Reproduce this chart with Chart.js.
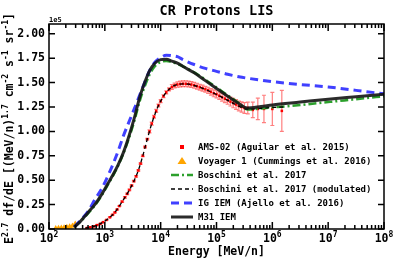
<!DOCTYPE html>
<html>
<head>
<meta charset="utf-8">
<script src="https://cdn.jsdelivr.net/npm/chart.js@4.4.0/dist/chart.umd.min.js"></script>
<style>
  html, body { margin: 0; padding: 0; background: #fff; }
  canvas { display: block; }
</style>
</head>
<body>
<canvas id="lisChart" width="399" height="261"></canvas>
<script>
// energies in MeV/n, spectra in units of 1e5
const modelE = [282, 355, 501, 661, 891, 1148, 1413, 1738, 2138, 2630, 3311, 4266, 5248, 6310, 7943,
    10000, 12589, 15849, 19953, 25119, 39811, 63096, 100000, 158489, 251189, 354813, 630957,
    1000000, 3162278, 10000000, 31622777, 100000000];
const m31Iem = [0.02, 0.07, 0.17, 0.25, 0.36, 0.47, 0.56, 0.66, 0.78, 0.93, 1.12, 1.36, 1.51, 1.62, 1.70,
    1.735, 1.74, 1.72, 1.70, 1.665, 1.60, 1.52, 1.44, 1.36, 1.285, 1.24, 1.255,
    1.27, 1.30, 1.33, 1.355, 1.38];
const igIem = [0.02, 0.08, 0.18, 0.30, 0.42, 0.55, 0.67, 0.80, 0.95, 1.08, 1.22, 1.38, 1.51, 1.62, 1.71,
    1.755, 1.78, 1.775, 1.765, 1.735, 1.685, 1.645, 1.615, 1.585, 1.56, 1.545, 1.525,
    1.51, 1.48, 1.455, 1.42, 1.385];
const boschini = [0.02, 0.07, 0.16, 0.24, 0.35, 0.46, 0.55, 0.65, 0.77, 0.91, 1.09, 1.32, 1.47, 1.58, 1.67,
    1.71, 1.72, 1.71, 1.69, 1.665, 1.605, 1.53, 1.45, 1.37, 1.29, 1.225, 1.235,
    1.245, 1.27, 1.30, 1.33, 1.36];

const modE = [447, 631, 933, 1230, 1585, 2042, 2630, 3311, 3981, 4786, 5754, 6918, 8318, 10000, 12589,
    15849, 19953, 25119, 31623, 39811, 63096, 100000, 158489, 251189, 354813, 630957, 1000000, 1584893];
const modF = [0.007, 0.027, 0.07, 0.12, 0.185, 0.28, 0.38, 0.49, 0.60, 0.75, 0.92, 1.08, 1.21, 1.31, 1.40,
    1.455, 1.48, 1.487, 1.483, 1.47, 1.43, 1.378, 1.318, 1.258, 1.228, 1.235, 1.245, 1.25];

const amsE = [479, 550, 631, 724, 832, 933, 1072, 1230, 1380, 1514, 1660, 1820, 2042, 2291, 2512, 2754,
    3020, 3311, 3631, 3981, 4365, 4786, 5248, 5754, 6310, 6918, 7586, 8318, 9120, 10000, 11220,
    12589, 14125, 15849, 17783, 19953, 22387, 25119, 28184, 31623, 35481, 39811, 44668, 50119,
    56234, 63096, 70795, 79433, 89125, 100000, 112202, 125893, 141254, 158489, 177828, 199526,
    223872, 251189, 281838, 316228, 363078, 446684, 549541, 707946, 1000000, 1479108];
const amsF = [0.01, 0.018, 0.027, 0.04, 0.053, 0.07, 0.093, 0.12, 0.145, 0.17, 0.2, 0.235, 0.28, 0.325, 0.36, 0.40,
    0.445, 0.49, 0.54, 0.60, 0.67, 0.75, 0.84, 0.92, 1.00, 1.08, 1.15, 1.21, 1.265, 1.31, 1.36,
    1.40, 1.43, 1.455, 1.47, 1.48, 1.485, 1.488, 1.487, 1.485, 1.48, 1.472, 1.463, 1.453,
    1.443, 1.432, 1.42, 1.405, 1.39, 1.38, 1.365, 1.35, 1.335, 1.32, 1.305, 1.29,
    1.275, 1.26, 1.25, 1.24, 1.24, 1.22, 1.23, 1.23, 1.23, 1.21];
const amsErr = [0.004, 0.004, 0.004, 0.004, 0.004, 0.004, 0.004, 0.004, 0.004, 0.004, 0.004, 0.004, 0.008, 0.008, 0.008, 0.008,
    0.008, 0.008, 0.008, 0.008, 0.008, 0.008, 0.008, 0.008, 0.015, 0.015, 0.015, 0.015, 0.015, 0.015, 0.015,
    0.015, 0.015, 0.025, 0.025, 0.028, 0.03, 0.03, 0.03, 0.03, 0.03, 0.03, 0.03, 0.03,
    0.03, 0.03, 0.032, 0.034, 0.035, 0.036, 0.038, 0.04, 0.04, 0.042, 0.045, 0.048,
    0.05, 0.05, 0.052, 0.055, 0.06, 0.08, 0.11, 0.14, 0.17, 0.21];

const voyagerE = [132, 148, 166, 186, 209, 234, 263, 295];
const voyagerF = [0.006, 0.008, 0.011, 0.014, 0.018, 0.023, 0.03, 0.05];

const xTicks = [1e2, 1e3, 1e4, 1e5, 1e6, 1e7, 1e8];
const xTickExps = ['2', '3', '4', '5', '6', '7', '8'];
const yTicks = [0, 0.25, 0.5, 0.75, 1.0, 1.25, 1.5, 1.75, 2.0];
const yTickLabels = ['0.00', '0.25', '0.50', '0.75', '1.00', '1.25', '1.50', '1.75', '2.00'];

const MONO = '"DejaVu Sans Mono", monospace';
const pts = (xs, ys) => xs.map((v, i) => ({ x: v, y: ys[i] }));

const decorations = {
    id: 'decorations',
    beforeDatasetsDraw(chart) {
        const { ctx, scales: { x, y } } = chart;
        ctx.save();
        ctx.strokeStyle = 'rgba(255, 0, 0, 0.5)';
        ctx.lineWidth = 1.2;
        amsE.forEach((e, i) => {
            const px = x.getPixelForValue(e);
            const lo = y.getPixelForValue(amsF[i] - amsErr[i]);
            const hi = y.getPixelForValue(amsF[i] + amsErr[i]);
            ctx.beginPath();
            ctx.moveTo(px, lo); ctx.lineTo(px, hi);
            ctx.moveTo(px - 2, lo); ctx.lineTo(px + 2, lo);
            ctx.moveTo(px - 2, hi); ctx.lineTo(px + 2, hi);
            ctx.stroke();
        });
        ctx.restore();
    },
    afterDraw(chart) {
        const { ctx, chartArea: a, scales: { x, y } } = chart;
        ctx.save();

        // frame + inward ticks
        ctx.strokeStyle = '#000';
        ctx.lineWidth = 1.5;
        ctx.strokeRect(a.left, a.top, a.right - a.left, a.bottom - a.top);
        ctx.beginPath();
        for (let d = 2; d <= 8; d++) {
            for (let m = 1; m <= 9; m++) {
                const v = m * Math.pow(10, d);
                if (v > 1e8) break;
                const px = x.getPixelForValue(v);
                const len = m === 1 ? 7 : 4;
                ctx.moveTo(px, a.bottom); ctx.lineTo(px, a.bottom - len);
                ctx.moveTo(px, a.top); ctx.lineTo(px, a.top + len);
            }
        }
        yTicks.forEach(v => {
            const py = y.getPixelForValue(v);
            ctx.moveTo(a.left, py); ctx.lineTo(a.left + 6, py);
            ctx.moveTo(a.right, py); ctx.lineTo(a.right - 6, py);
        });
        ctx.stroke();

        ctx.fillStyle = '#000';
        ctx.textBaseline = 'alphabetic';
        const baseFont = 'bold 11.5px ' + MONO, supFont = 'bold 8px ' + MONO;

        // x tick labels 10^n
        ctx.textAlign = 'left';
        xTicks.forEach((v, i) => {
            const px = x.getPixelForValue(v);
            ctx.font = baseFont;
            const wb = ctx.measureText('10').width;
            ctx.font = supFont;
            const we = ctx.measureText(xTickExps[i]).width;
            const sx = px - (wb + we) / 2;
            ctx.font = baseFont;
            ctx.fillText('10', sx, a.bottom + 12.5);
            ctx.font = supFont;
            ctx.fillText(xTickExps[i], sx + wb, a.bottom + 7.5);
        });

        ctx.textAlign = 'center';
        const midX = (a.left + a.right) / 2;
        ctx.font = 'bold 13.5px ' + MONO;
        ctx.fillText('CR Protons LIS', midX, 15);
        ctx.font = baseFont;
        ctx.fillText('Energy [MeV/n]', midX, 255);

        ctx.textAlign = 'left';
        ctx.font = 'bold 7px ' + MONO;
        ctx.fillText('1e5', a.left, 22);

        // y axis title with superscripts
        const parts = [['E', 0], ['2.7', 1], [' df/dE [(MeV/n)', 0], ['1.7', 1], [' cm', 0], ['-2', 1],
            [' s', 0], ['-1', 1], [' sr', 0], ['-1', 1], [']', 0]];
        let total = 0;
        parts.forEach(([t, s]) => { ctx.font = s ? supFont : baseFont; total += ctx.measureText(t).width; });
        ctx.translate(13, (a.top + a.bottom) / 2 + 2);
        ctx.rotate(-Math.PI / 2);
        let cx = -total / 2;
        parts.forEach(([t, s]) => {
            ctx.font = s ? supFont : baseFont;
            ctx.fillText(t, cx, s ? -5 : 0);
            cx += ctx.measureText(t).width;
        });
        ctx.setTransform(1, 0, 0, 1, 0, 0);

        // legend
        const lx0 = 171, lx1 = 193, tx = 198;
        ctx.font = 'bold 9px ' + MONO;
        chart.data.datasets.slice().sort((p, q) => p.legendRank - q.legendRank).forEach((ds, i) => {
            const cy = 147 + i * 14;
            ctx.save();
            if (ds.showLine === false) {
                ctx.fillStyle = ds.pointBackgroundColor;
                const mx = (lx0 + lx1) / 2;
                ctx.beginPath();
                if (ds.pointStyle === 'rect') {
                    ctx.rect(mx - 2, cy - 2, 4, 4);
                } else {
                    ctx.moveTo(mx, cy - 4); ctx.lineTo(mx + 4.5, cy + 3); ctx.lineTo(mx - 4.5, cy + 3);
                    ctx.closePath();
                }
                ctx.fill();
            } else {
                ctx.strokeStyle = ds.borderColor;
                ctx.lineWidth = ds.borderWidth;
                ctx.setLineDash(ds.borderDash || []);
                ctx.beginPath();
                ctx.moveTo(lx0, cy); ctx.lineTo(lx1, cy);
                ctx.stroke();
            }
            ctx.restore();
            ctx.fillStyle = '#000';
            ctx.fillText(ds.label, tx, cy + 3);
        });
        ctx.restore();
    }
};

new Chart(document.getElementById('lisChart'), {
    type: 'line',
    data: {
        datasets: [
            {
                label: 'M31 IEM',
                legendRank: 5,
                data: pts(modelE, m31Iem),
                borderColor: 'rgba(20, 20, 20, 0.9)',
                borderWidth: 3,
                pointRadius: 0,
                cubicInterpolationMode: 'monotone',
                order: 1,
            },
            {
                label: 'IG IEM (Ajello et al. 2016)',
                legendRank: 4,
                data: pts(modelE, igIem),
                borderColor: 'rgba(30, 30, 255, 0.85)',
                borderWidth: 3,
                borderDash: [8, 5],
                pointRadius: 0,
                cubicInterpolationMode: 'monotone',
                order: 2,
            },
            {
                label: 'Boschini et al. 2017 (modulated)',
                legendRank: 3,
                data: pts(modE, modF),
                borderColor: '#000',
                borderWidth: 1.3,
                borderDash: [4, 3],
                pointRadius: 0,
                cubicInterpolationMode: 'monotone',
                order: 3,
            },
            {
                label: 'Boschini et al. 2017',
                legendRank: 2,
                data: pts(modelE, boschini),
                borderColor: '#2ca02c',
                borderWidth: 2.5,
                borderDash: [8, 3, 2, 3],
                pointRadius: 0,
                cubicInterpolationMode: 'monotone',
                order: 4,
            },
            {
                label: 'AMS-02 (Aguilar et al. 2015)',
                legendRank: 0,
                data: pts(amsE, amsF),
                showLine: false,
                pointStyle: 'rect',
                pointRadius: 1.8,
                pointBorderWidth: 0,
                pointBackgroundColor: '#ff0000',
                order: 5,
            },
            {
                label: 'Voyager 1 (Cummings et al. 2016)',
                legendRank: 1,
                data: pts(voyagerE, voyagerF),
                showLine: false,
                pointStyle: 'triangle',
                pointRadius: 3.5,
                pointBorderWidth: 0,
                pointBackgroundColor: '#ffa500',
                order: 6,
            },
        ],
    },
    options: {
        responsive: false,
        devicePixelRatio: 1,
        animation: false,
        layout: { padding: { top: 24, right: 15, left: 0, bottom: 0 } },
        plugins: {
            legend: { display: false },
            tooltip: { enabled: false },
        },
        scales: {
            x: {
                type: 'logarithmic',
                min: 1e2,
                max: 1e8,
                grid: { display: false, drawTicks: false },
                border: { display: false },
                afterBuildTicks: (scale) => { scale.ticks = xTicks.map(v => ({ value: v })); },
                afterFit: (scale) => { scale.height = 32; },
                ticks: { display: false },
            },
            y: {
                type: 'linear',
                min: 0,
                max: 2.1,
                grid: { display: false, drawTicks: false },
                border: { display: false },
                afterBuildTicks: (scale) => { scale.ticks = yTicks.map(v => ({ value: v })); },
                afterFit: (scale) => { scale.width = 49; },
                ticks: {
                    padding: 4,
                    color: '#000',
                    font: { family: MONO, weight: 'bold', size: 11.5 },
                    callback: (v, i) => yTickLabels[i],
                },
            },
        },
    },
    plugins: [decorations],
});
</script>
</body>
</html>
